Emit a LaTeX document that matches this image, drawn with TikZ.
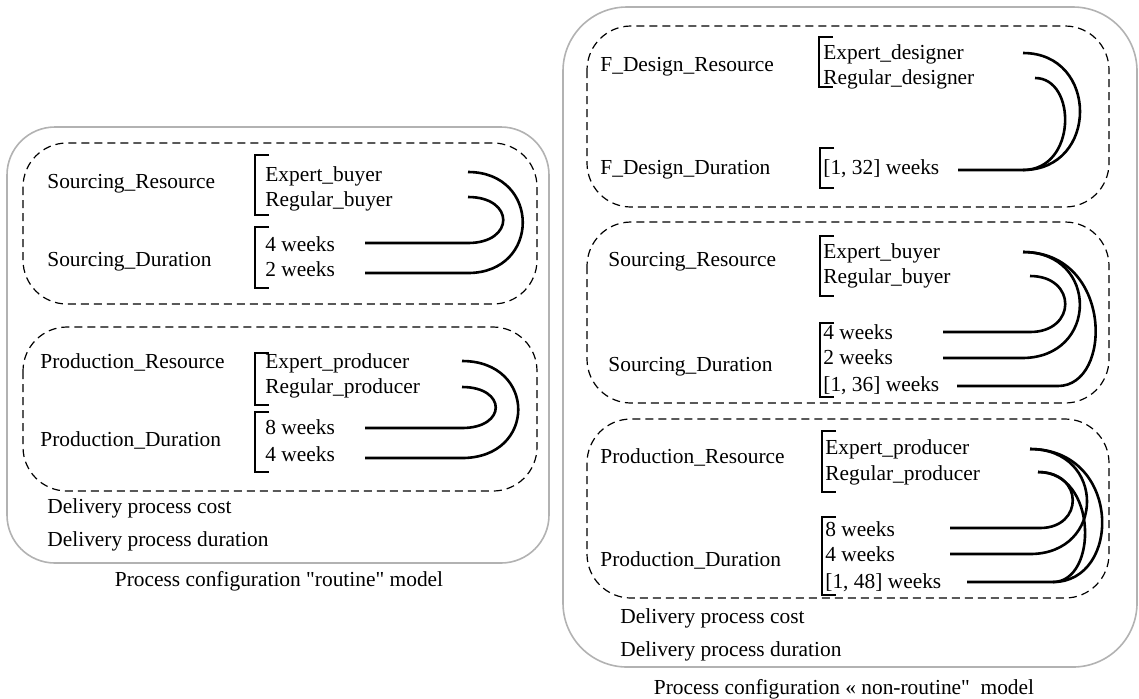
\documentclass[tikz,border=0pt]{standalone}
\usepackage{fontspec}
\setmainfont{Liberation Serif}[Ligatures=TeXOff]
\newcommand{\mybracket}[3]{\draw[brk] (#1+14,#2) -- (#1,#2) -- (#1,#3) -- (#1+14,#3);}
\begin{document}
\begin{tikzpicture}[x=0.5pt,y=-0.5pt,
  lbl/.style={anchor=west,inner sep=0pt,text height=8pt,text depth=2pt,font=\fontsize{10.7}{12}\selectfont},
  outerbox/.style={draw=black!30,line width=0.8pt,rounded corners=24pt},
  group/.style={draw=black,line width=0.6pt,dash pattern=on 4pt off 2.5pt,rounded corners=22pt},
  brk/.style={draw=black,line width=0.7pt},
  link/.style={draw=black,line width=1.3pt}]
\useasboundingbox (0,0) rectangle (1139,698);

% ---------------- left panel ----------------
\draw[outerbox] (7,127) rectangle (549,563);
\draw[group] (23,143) rectangle (537,304);
\draw[group] (23,327) rectangle (537,491);

\node[lbl] (lsr) at (47,182) {Sourcing\_Resource};
\node[lbl] (lsd) at (47,260) {Sourcing\_Duration};
\node[lbl] (leb) at (265,175) {Expert\_buyer};
\node[lbl] (lrb) at (265,200) {Regular\_buyer};
\node[lbl] (lw4) at (265,245) {4 weeks};
\node[lbl] (lw2) at (265,270) {2 weeks};
\mybracket{255}{155}{215}
\mybracket{255}{227}{288}
\coordinate (leb-a) at (468,172);
\coordinate (lrb-a) at (468,197);
\coordinate (lw4-s) at (365,243); \coordinate (lw4-e) at (468,243);
\coordinate (lw2-s) at (365,273); \coordinate (lw2-e) at (468,273);
\draw[link] (lw4-s) -- (lw4-e) .. controls (515,243) and (515,197) .. (lrb-a);
\draw[link] (lw2-s) -- (lw2-e) .. controls (541,273) and (541,172) .. (leb-a);

\node[lbl] (lpr) at (40,362) {Production\_Resource};
\node[lbl] (lpd) at (40,440) {Production\_Duration};
\node[lbl] (lep) at (265,362) {Expert\_producer};
\node[lbl] (lrp) at (265,387) {Regular\_producer};
\node[lbl] (lw8) at (265,428) {8 weeks};
\node[lbl] (lw4p) at (265,455) {4 weeks};
\mybracket{255}{353}{405}
\mybracket{255}{412}{472}
\coordinate (lep-a) at (462,361);
\coordinate (lrp-a) at (462,387);
\coordinate (lw8-s) at (365,428); \coordinate (lw8-e) at (462,428);
\coordinate (lw4p-s) at (365,458); \coordinate (lw4p-e) at (462,458);
\draw[link] (lw8-s) -- (lw8-e) .. controls (507,428) and (507,387) .. (lrp-a);
\draw[link] (lw4p-s) -- (lw4p-e) .. controls (537,458) and (537,361) .. (lep-a);

\node[lbl] (ldc) at (47,507) {Delivery process cost};
\node[lbl] (ldd) at (47,540) {Delivery process duration};
\node[lbl,anchor=center] (lcap) at (279,580) {Process configuration "routine" model};

% ---------------- right panel ----------------
\draw[outerbox,rounded corners=32pt] (563,7) rectangle (1137,667);
\draw[group] (587,26) rectangle (1109,207);
\draw[group] (587,222) rectangle (1109,403);
\draw[group] (587,419) rectangle (1109,598);

% F_Design
\node[lbl] (fdr) at (600,65) {F\_Design\_Resource};
\node[lbl] (fdd) at (600,168) {F\_Design\_Duration};
\node[lbl] (red) at (823,53) {Expert\_designer};
\node[lbl] (rrd) at (823,78) {Regular\_designer};
\node[lbl] (rw32) at (823,168) {[1, 32] weeks};
\mybracket{819}{37}{87}
\mybracket{820}{148}{188}
\coordinate (red-a) at (1023,53);
\coordinate (rrd-a) at (1035,78);
\coordinate (rw32-s) at (958,170); \coordinate (rw32-e) at (1023,170);
\draw[link] (rw32-s) -- (rw32-e) .. controls (1099,170) and (1099,53) .. (red-a);
\draw[link] (rw32-e) .. controls (1077,170) and (1077,78) .. (rrd-a);

% Sourcing
\node[lbl] (rsr) at (608,260) {Sourcing\_Resource};
\node[lbl] (rsd) at (608,365) {Sourcing\_Duration};
\node[lbl] (reb) at (823,252) {Expert\_buyer};
\node[lbl] (rrb) at (823,277) {Regular\_buyer};
\node[lbl] (rw4) at (823,333) {4 weeks};
\node[lbl] (rw2) at (823,358) {2 weeks};
\node[lbl] (rw36) at (823,385) {[1, 36] weeks};
\mybracket{820}{236}{296}
\mybracket{820}{323}{397}
\coordinate (reb-a) at (1023,252);
\coordinate (rrb-a) at (1030,276);
\coordinate (rw4-s) at (943,332); \coordinate (rw4-e) at (1030,332);
\coordinate (rw2-s) at (943,358); \coordinate (rw2-e) at (1022,358);
\coordinate (rw36-s) at (957,386); \coordinate (rw36-e) at (1058,386);
\draw[link] (rw4-s) -- (rw4-e) .. controls (1077,332) and (1077,276) .. (rrb-a);
\draw[link] (rw2-s) -- (rw2-e) .. controls (1099,358) and (1099,252) .. (reb-a);
\draw[link] (rw36-s) -- (rw36-e) .. controls (1113,386) and (1113,252) .. (reb-a);

% Production
\node[lbl] (rpr) at (600,457) {Production\_Resource};
\node[lbl] (rpd) at (600,560) {Production\_Duration};
\node[lbl] (rep) at (825,448) {Expert\_producer};
\node[lbl] (rrp) at (825,474) {Regular\_producer};
\node[lbl] (rw8) at (825,530) {8 weeks};
\node[lbl] (rw4p) at (825,555) {4 weeks};
\node[lbl] (rw48) at (825,582) {[1, 48] weeks};
\mybracket{822}{431}{492}
\mybracket{822}{517}{595}
\coordinate (rep-a) at (1030,449);
\coordinate (rrp-a) at (1038,472);
\coordinate (rw8-s) at (950,528); \coordinate (rw8-e) at (1040,528);
\coordinate (rw4p-s) at (950,554); \coordinate (rw4p-e) at (1030,554);
\coordinate (rw48-s) at (967,582); \coordinate (rw48-e) at (1053,582);
\draw[link] (rw8-s) -- (rw8-e) .. controls (1084,528) and (1084,472) .. (rrp-a);
\draw[link] (rw4p-s) -- (rw4p-e) .. controls (1106,554) and (1106,449) .. (rep-a);
\draw[link] (rw48-s) -- (rw48-e) .. controls (1122,582) and (1122,449) .. (rep-a);
\draw[link] (rw48-e) .. controls (1098,582) and (1098,472) .. (rrp-a);

\node[lbl] (rdc) at (620,617) {Delivery process cost};
\node[lbl] (rdd) at (620,650) {Delivery process duration};
\node[lbl,anchor=center] (rcap) at (844,688) {Process configuration « non-routine"\ \ model};
\end{tikzpicture}
\end{document}
